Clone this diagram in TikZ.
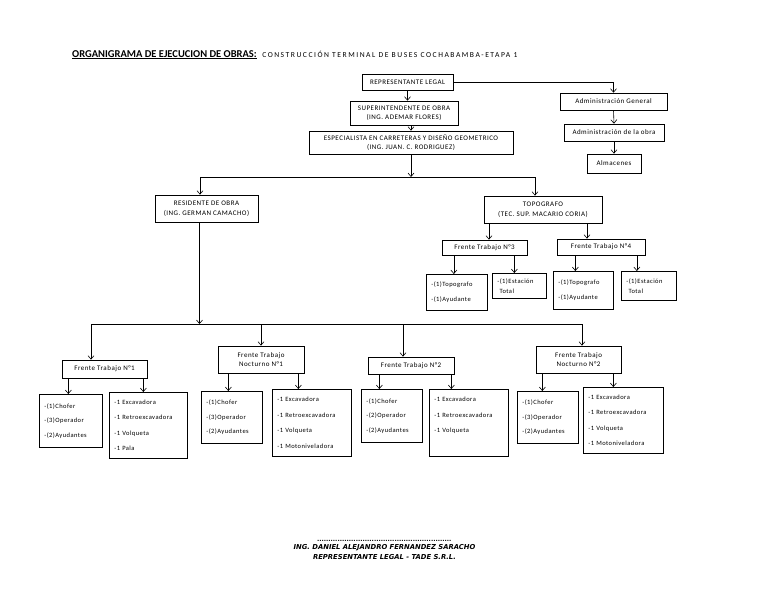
\documentclass[tikz,border=0pt]{standalone}
\usepackage{fontspec}
\setmainfont{Carlito}
\newfontfamily\firmafont{DejaVu Sans}[ItalicFont={DejaVu Sans Oblique},BoldItalicFont={DejaVu Sans Bold Oblique}]
\usepackage{tikz}
\usetikzlibrary{positioning,arrows.meta}
\newcommand{\Ntxt}[2]{\fontsize{#1}{#2}\selectfont\addfontfeature{LetterSpace=7}}

\begin{document}
\begin{tikzpicture}[x=1pt,y=-1pt]
\tikzstyle{caja}=[rectangle, draw=black, line width=0.7pt, inner sep=1pt, align=center, font=\Ntxt{7}{9.5}]
\tikzstyle{lista}=[rectangle, draw=black, line width=0.7pt, anchor=north west, align=left, inner xsep=5pt, inner ysep=2pt, font=\Ntxt{6.5}{14.5}]
\tikzstyle{connect}=[-{Straight Barb[length=3.5pt,width=6pt]}, line width=0.6pt]
\tikzstyle{linea}=[line width=0.7pt]
\useasboundingbox (0,0) rectangle (768,594);
	\node[anchor=base west, inner sep=0, font=\fontsize{10.5}{12}\selectfont\bfseries] (titulo) at (72,57) {\underline{ORGANIGRAMA DE EJECUCION DE OBRAS:}};
	\node[anchor=base west, inner sep=0, font=\fontsize{7.6}{9}\selectfont\addfontfeature{LetterSpace=20}] (subtitulo) at ([xshift=5]titulo.base east) {CONSTRUCCIÓN TERMINAL DE BUSES COCHABAMBA-ETAPA 1};

	\node[caja, minimum width=91, minimum height=16] (rep) at (407.5,82) {REPRESENTANTE LEGAL};
	\node[caja, minimum width=108, minimum height=24] (sup) at (404,113) {SUPERINTENDENTE DE OBRA\\(ING. ADEMAR FLORES)};
	\node[caja, minimum width=204, minimum height=23] (esp) at (411,142.5) {ESPECIALISTA EN CARRETERAS Y DISEÑO GEOMETRICO\\(ING. JUAN. C. RODRIGUEZ)};
	\node[caja, minimum width=107, minimum height=17] (adg) at (613.5,101.5) {Administración General};
	\node[caja, minimum width=100, minimum height=17] (ado) at (614,132.5) {Administración de la obra};
	\node[caja, minimum width=54, minimum height=19] (alm) at (614,163.5) {Almacenes};

	\node[caja, minimum width=103, minimum height=27] (res) at (206.5,208.5) {RESIDENTE DE OBRA\\(ING. GERMAN CAMACHO)};
	\node[caja, minimum width=118, minimum height=27] (top) at (543,209.5) {TOPOGRAFO\\(TEC. SUP. MACARIO CORIA)};
	\node[caja, minimum width=85, minimum height=15] (ft3) at (484.5,247.5) {Frente Trabajo N°3};
	\node[caja, minimum width=88, minimum height=16] (ft4) at (601,247) {Frente Trabajo N°4};
	\node[lista, text width=51, minimum height=36, font=\Ntxt{6.5}{15}] (t3a) at (426,274) {-(1)Topografo\\-(1)Ayudante};
	\node[lista, text width=44, minimum height=25, font=\Ntxt{6.5}{10}] (t3b) at (492,273) {-(1)Estación\\\ Total};
	\node[lista, text width=50, minimum height=38, font=\Ntxt{6.5}{15}] (t4a) at (553,271) {-(1)Topografo\\-(1)Ayudante};
	\node[lista, text width=45, minimum height=29, font=\Ntxt{6.5}{10}] (t4b) at (621,271) {-(1)Estación\\\ Total};

	\node[caja, minimum width=85, minimum height=18] (ft1) at (104.5,369) {Frente Trabajo N°1};
	\node[caja, minimum width=86, minimum height=27] (n1) at (261,359.5) {Frente Trabajo\\Nocturno N°1};
	\node[caja, minimum width=86, minimum height=17] (ft2) at (411,365.5) {Frente Trabajo N°2};
	\node[caja, minimum width=85, minimum height=27] (n2) at (578.5,359.5) {Frente Trabajo\\Nocturno N°2};

	\node[lista, text width=53, minimum height=53] (ft1a) at (39,394) {-(1)Chofer\\-(3)Operador\\-(2)Ayudantes};
	\node[lista, text width=68, minimum height=66, font=\Ntxt{6.5}{15.5}] (ft1b) at (109,392) {-1 Excavadora\\-1 Retroexcavadora\\-1 Volqueta\\-1 Pala};
	\node[lista, text width=51, minimum height=52] (n1a) at (201,391) {-(1)Chofer\\-(3)Operador\\-(2)Ayudantes};
	\node[lista, text width=69, minimum height=67, font=\Ntxt{6.5}{15.5}] (n1b) at (272,389) {-1 Excavadora\\-1 Retroexcavadora\\-1 Volqueta\\-1 Motoniveladora};
	\node[lista, text width=51, minimum height=53] (ft2a) at (361,389) {-(1)Chofer\\-(2)Operador\\-(2)Ayudantes};
	\node[lista, text width=69, minimum height=67, font=\Ntxt{6.5}{15.5}] (ft2b) at (429,389) {-1 Excavadora\\-1 Retroexcavadora\\-1 Volqueta\\\mbox{}};
	\node[lista, text width=51, minimum height=52] (n2a) at (517,391) {-(1)Chofer\\-(3)Operador\\-(2)Ayudantes};
	\node[lista, text width=70, minimum height=66, font=\Ntxt{6.5}{15.5}] (n2b) at (583,387) {-1 Excavadora\\-1 Retroexcavadora\\-1 Volqueta\\-1 Motoniveladora};

	\node[align=center, inner sep=0, font=\firmafont\fontsize{6.8}{10.5}\selectfont\bfseries\itshape] (firma) at (384.5,552) {ING. DANIEL ALEJANDRO FERNANDEZ SARACHO\\REPRESENTANTE LEGAL - TADE S.R.L.};
	\node[above=2.5pt of firma, inner sep=0, font=\firmafont\fontsize{6}{6}\selectfont\bfseries] (puntos) {\makebox[135pt]{\leaders\hbox{.}\hfill}};

	\coordinate (bifa) at (200,177);
	\coordinate (bifb) at (535,177);
	\coordinate (bifc) at (91,324);
	\coordinate (bifd) at (582,324);

	\draw[connect] (rep.east) -| (adg.north);
	\path
		(rep.south) edge[connect] (rep.south |- sup.north)
		(esp.north |- sup.south) edge[connect] (esp.north)
		(adg.south) edge[connect] (ado.north)
		(ado.south) edge[connect] (alm.north)
		(esp.south) edge[connect] (esp.south |- bifa)
		(bifa) edge[linea] (bifb)
		(bifa) edge[connect] (bifa |- res.north)
		(bifb) edge[connect] (bifb |- top.north)
		([xshift=4.5]ft3.north |- top.south) edge[connect] ([xshift=4.5]ft3.north)
		([xshift=-14]ft4.north |- top.south) edge[connect] ([xshift=-14]ft4.north)
		([xshift=-3]t3a.north |- ft3.south) edge[connect] ([xshift=-3]t3a.north)
		([xshift=-5]t3b.north |- ft3.south) edge[connect] ([xshift=-5]t3b.north)
		([xshift=-8]t4a.north |- ft4.south) edge[connect] ([xshift=-8]t4a.north)
		([xshift=-12]t4b.north |- ft4.south) edge[connect] ([xshift=-12]t4b.north)
		([xshift=-7]res.south) edge[connect] ([xshift=-7]res.south |- bifc)
		(bifc) edge[linea] (bifd)
		(bifc) edge[connect] (bifc |- ft1.north)
		(n1.north |- bifc) edge[connect] (n1.north)
		([xshift=-8]ft2.north |- bifc) edge[connect] ([xshift=-8]ft2.north)
		(bifd) edge[connect] (bifd |- n2.north)
		([xshift=-2.5]ft1a.north |- ft1.south) edge[connect] ([xshift=-2.5]ft1a.north)
		([xshift=-5]ft1b.north |- ft1.south) edge[connect] ([xshift=-5]ft1b.north)
		([xshift=-3.5]n1a.north |- n1.south) edge[connect] ([xshift=-3.5]n1a.north)
		([xshift=-13.5]n1b.north |- n1.south) edge[connect] ([xshift=-13.5]n1b.north)
		([xshift=-12.5]ft2a.north |- ft2.south) edge[connect] ([xshift=-12.5]ft2a.north)
		([xshift=-17.5]ft2b.north |- ft2.south) edge[connect] ([xshift=-17.5]ft2b.north)
		([xshift=-5.5]n2a.north |- n2.south) edge[connect] ([xshift=-5.5]n2a.north)
		([xshift=-10]n2b.north |- n2.south) edge[connect] ([xshift=-10]n2b.north);
\end{tikzpicture}
\end{document}
